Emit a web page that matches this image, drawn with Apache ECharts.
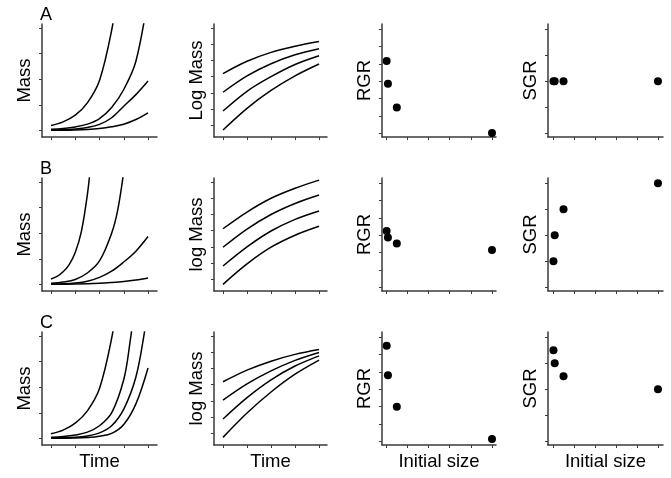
<!DOCTYPE html>
<html>
<head>
<meta charset="utf-8">
<script src="https://cdn.jsdelivr.net/npm/echarts@6/dist/echarts.min.js"></script>
<style>html,body{margin:0;padding:0;background:#fff}#c{width:671px;height:478px}</style>
</head>
<body>
<div id="c"></div>
<script>
// ---- tick labels / categories ----
const panelLetters = ['A', 'B', 'C'];
const yNames = [['Mass', 'Log Mass', 'RGR', 'SGR'], ['Mass', 'log Mass', 'RGR', 'SGR'], ['Mass', 'log Mass', 'RGR', 'SGR']];
const xNames = ['Time', 'Time', 'Initial size', 'Initial size'];
const timeTicks = [0, 1, 2, 3, 4];
const sizeTicks = [0, 10, 20, 30, 40, 50];
const massTicks = [0, 1, 2, 3, 4];
const logTicks = [0, 1, 2, 3, 4, 5, 6];
const rgrTicks = [0, 1, 2, 3, 4, 5, 6];
const sgrTicks = [0, 1, 2, 3, 4];

// ---- Row A: mass curves [time, mass] ----
const massA1 = [[0,0.2],[0.5,0.34],[1,0.6],[1.5,1.08],[2,1.95],[2.5,3.9],[2.75,5.5]];
const massA2 = [[0,0.05],[0.5,0.08],[1,0.14],[1.5,0.25],[2,0.47],[2.5,0.9],[3,1.6],[3.5,2.7],[4,5.2]];
const massA3 = [[0,0.02],[0.5,0.03],[1,0.06],[1.5,0.12],[2,0.24],[2.5,0.5],[3,0.95],[3.5,1.4],[4,1.93]];
const massA4 = [[0,0.01],[0.5,0.015],[1,0.02],[1.5,0.04],[2,0.08],[2.5,0.15],[3,0.25],[3.5,0.43],[4,0.69]];
// Row A: log mass curves
const logA1 = [[0,3.19],[1,3.95],[2,4.5],[3,4.88],[4,5.17]];
const logA2 = [[0,2.04],[1,3.05],[2,3.8],[3,4.35],[4,4.72]];
const logA3 = [[0,0.88],[1,2.1],[2,3.0],[3,3.75],[4,4.29]];
const logA4 = [[0,-0.29],[1,1.05],[2,2.15],[3,3.05],[4,3.78]];

// ---- Row B ----
const massB1 = [[0,0.22],[0.25,0.32],[0.5,0.5],[0.75,0.78],[1,1.25],[1.25,2.05],[1.5,3.5],[1.65,4.8]];
const massB2 = [[0,0.05],[0.5,0.1],[1,0.2],[1.5,0.45],[2,0.92],[2.5,2.0],[2.75,2.9],[3,4.4]];
const massB3 = [[0,0.02],[0.5,0.03],[1,0.06],[1.5,0.13],[2,0.28],[2.5,0.52],[3,0.88],[3.5,1.3],[4,1.87]];
const massB4 = [[0,0.01],[1,0.02],[2,0.05],[2.5,0.08],[3,0.12],[3.5,0.18],[4,0.26]];
const logB1 = [[0,3.12],[1,4.15],[2,5.0],[3,5.62],[4,6.12]];
const logB2 = [[0,1.98],[1,3.1],[2,4.0],[3,4.68],[4,5.2]];
const logB3 = [[0,0.82],[1,2.0],[2,2.98],[3,3.7],[4,4.22]];
const logB4 = [[0,-0.31],[1,0.95],[2,1.98],[3,2.72],[4,3.27]];

// ---- Row C ----
const massC1 = [[0,0.19],[0.5,0.33],[1,0.6],[1.5,1.08],[2,1.95],[2.5,3.9],[2.75,5.5]];
const massC2 = [[0,0.05],[0.5,0.08],[1,0.14],[1.5,0.25],[2,0.5],[2.5,1.0],[3,2.3],[3.25,3.7],[3.5,5.5]];
const massC3 = [[0,0.02],[1,0.05],[1.5,0.1],[2,0.22],[2.5,0.5],[3,1.15],[3.5,2.4],[3.85,4.13],[4,5.2]];
const massC4 = [[0,0.01],[1,0.02],[1.5,0.04],[2,0.09],[2.5,0.2],[3,0.55],[3.5,1.35],[4,2.75]];
const logC1 = [[0,3.18],[1,3.9],[2,4.45],[3,4.87],[4,5.17]];
const logC2 = [[0,2.05],[1,3.05],[2,3.85],[3,4.5],[4,4.99]];
const logC3 = [[0,0.88],[1,2.2],[2,3.3],[3,4.15],[4,4.78]];
const logC4 = [[0,-0.25],[1,1.25],[2,2.55],[3,3.65],[4,4.52]];

// ---- Scatter panels: initial size vs growth rate ----
const initialSize = [0.2, 0.8, 5, 50];
const rgrA = [4.17, 2.86, 1.49, 0.03];
const sgrA = [2.0, 2.0, 2.0, 2.0];
const rgrB = [3.25, 2.87, 2.53, 2.16];
const sgrB = [1.0, 2.0, 3.0, 4.0];
const rgrC = [5.5, 3.8, 2.0, 0.15];
const sgrC = [3.5, 3.0, 2.5, 2.0];

// ---- layout ----
const colLeft = [42, 214, 382, 548];
const colWidth = [115, 113, 114, 115];
const rowTop = [24, 178, 332];
const rowHeight = 113;
const FONT = 'Liberation Sans';
const AX = '#3a3a3a';

const massCurves = [[massA1, massA2, massA3, massA4], [massB1, massB2, massB3, massB4], [massC1, massC2, massC3, massC4]];
const logCurves = [[logA1, logA2, logA3, logA4], [logB1, logB2, logB3, logB4], [logC1, logC2, logC3, logC4]];
const rgrRows = [rgrA, rgrB, rgrC];
const sgrRows = [sgrA, sgrB, sgrC];

const xCfg = [
  {ticks: timeTicks, min: -0.37, max: 4.37},
  {ticks: timeTicks, min: -0.375, max: 4.33},
  {ticks: sizeTicks, min: -2.0, max: 51.9},
  {ticks: sizeTicks, min: -2.4, max: 52.4}
];
const yCfg = [
  {ticks: massTicks, min: -0.25, max: 4.15},
  {ticks: logTicks, min: -0.72, max: 6.25},
  {ticks: rgrTicks, min: -0.2, max: 6.29},
  {ticks: sgrTicks, min: -0.14, max: 4.2}
];

const grid = [], xAxis = [], yAxis = [], series = [], graphic = [];
let idx = 0;
for (let r = 0; r < 3; r++) {
  for (let c = 0; c < 4; c++) {
    grid.push({left: colLeft[c], top: rowTop[r], width: colWidth[c], height: rowHeight});
    const axisBase = {
      axisLine: {show: true, onZero: false, lineStyle: {color: AX, width: 1.5}},
      axisTick: {show: true, inside: false, length: 3, lineStyle: {color: AX, width: 1}},
      axisLabel: {show: false},
      splitLine: {show: false},
      nameTextStyle: {fontFamily: FONT, fontSize: 18.5, color: '#000'}
    };
    xAxis.push(Object.assign({}, axisBase, {
      type: 'value', gridIndex: idx, min: xCfg[c].min, max: xCfg[c].max,
      axisTick: Object.assign({}, axisBase.axisTick, {customValues: xCfg[c].ticks}),
      axisLabel: {show: false, customValues: xCfg[c].ticks},
      name: r === 2 ? xNames[c] : '', nameLocation: 'middle', nameGap: 7
    }));
    yAxis.push(Object.assign({}, axisBase, {
      type: 'value', gridIndex: idx, min: yCfg[c].min, max: yCfg[c].max,
      axisTick: Object.assign({}, axisBase.axisTick, {customValues: yCfg[c].ticks}),
      axisLabel: {show: false, customValues: yCfg[c].ticks},
      name: yNames[r][c], nameLocation: 'middle', nameRotate: 90, nameGap: 8
    }));
    if (c === 0 || c === 1) {
      const curves = c === 0 ? massCurves[r] : logCurves[r];
      curves.forEach(function (d) {
        series.push({
          type: 'line', xAxisIndex: idx, yAxisIndex: idx, data: d,
          smooth: 0.35, showSymbol: false, clip: true, silent: true,
          lineStyle: {color: '#000', width: 1.5}
        });
      });
    } else {
      const vals = c === 2 ? rgrRows[r] : sgrRows[r];
      series.push({
        type: 'scatter', xAxisIndex: idx, yAxisIndex: idx,
        data: initialSize.map(function (s, i) { return [s, vals[i]]; }),
        symbol: 'circle', symbolSize: 8, clip: false, silent: true,
        itemStyle: {color: '#000', opacity: 1}
      });
    }
    idx++;
  }
  graphic.push({
    type: 'text', left: 40, top: rowTop[r] - 18,
    style: {text: panelLetters[r], font: '18px "' + FONT + '"', fill: '#000'}
  });
}

const chart = echarts.init(document.getElementById('c'), null, {renderer: 'canvas'});
chart.setOption({
  animation: false,
  backgroundColor: '#fff',
  grid: grid, xAxis: xAxis, yAxis: yAxis, series: series, graphic: graphic
});
</script>
</body>
</html>
